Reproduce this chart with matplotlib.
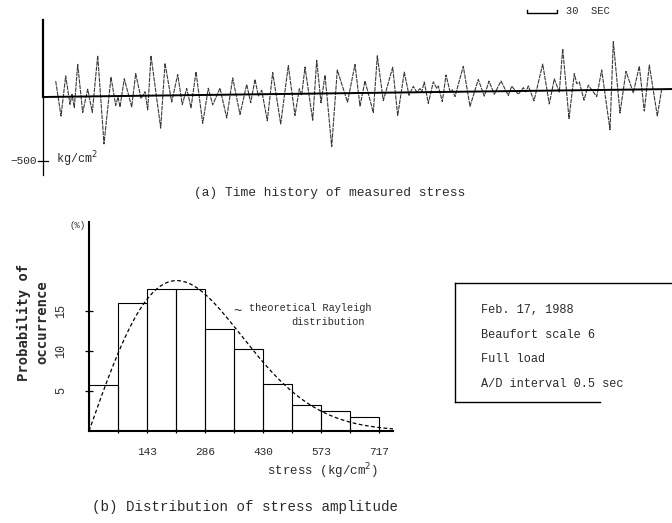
import numpy as np
import matplotlib
matplotlib.use("Agg")
import matplotlib.pyplot as plt

# ---------------- data ----------------
# (a) measured stress record: successive turning points
time_s = [12.7, 18, 22.7, 27, 29, 31.3, 34.7, 39.7, 44.7, 49.3, 54.7, 61, 68, 72.7, 75, 77,
          81.3, 88.7, 92.7, 98, 102, 104.7, 108, 117.7, 122, 128.7, 134.7, 139.3, 143.7, 148,
          153, 159.7, 165.3, 169.7, 177, 183.7, 189.7, 197, 203.7, 207.7, 212, 215.3, 218.7,
          224.3, 229.7, 237.7, 245.3, 252, 256.3, 258.7, 262, 269.7, 273.7, 278, 282, 288.7,
          294.3, 304.5, 312, 317, 322, 330.3, 334.3, 340.3, 349.7, 354.7, 361.3, 366, 370.3,
          373.7, 377, 378.7, 381.3, 385.3, 390.3, 393.7, 395.3, 399.3, 403, 407, 409.3, 412,
          420.3, 427, 435.3, 441.3, 446, 451.3, 458, 465.3, 468.7, 475.3, 480.3, 483, 485.3,
          491, 499.7, 506.3, 511.3, 516.3, 519.7, 526, 531.3, 533.7, 536.3, 541, 545.3, 553.7,
          558.7, 567, 570.3, 577, 583, 590.3, 596.3, 601.3, 606.3, 614.3, 618.7]
stress_kg = [123, -151, 162, -60, 18, -86, 252, -125, 57, -125, 318, -372, 148, -73, -8, -86,
             135, -86, 174, -21, 31, -112, 312, -255, 252, -52, 162, -73, 52, -99,
             182, -221, 52, -78, 52, -182, 130, -156, 78, -65, 117, -13, 31,
             -208, 169, -234, 221, -169, 39, -13, 208, -208, 260, -73, 143, -416,
             182, -70, 224, -102, 94, -154, 289, -62, 198, -180, 159, -23, 47,
             2, 29, 2, 80, -88, 80, 29, 47, -76, 133, 2, 16, -37,
             198, -115, 94, -37, 80, -23, 80, -34, 39, -26, 26, -8, 39,
             -78, 208, -104, 91, -13, 326, -221, 130, 52, 65, -78, 39, -52,
             156, -312, 377, -182, 143, -26, 182, -169, 190, -208, 0]
record_length = 629
zero_drift = [0, 62]          # recorder zero line, start / end (kg/cm2)
scale_value = -500

# (b) histogram of stress amplitude
bin_width = 71.7
bin_pct = [5.8, 16.0, 17.8, 17.8, 12.7, 10.2, 5.9, 3.3, 2.5, 1.7]
tick_labels = ["143", "286", "430", "573", "717"]
rayleigh_mode = 217.0
rayleigh_peak = 18.8

info_lines = ["Feb. 17, 1988", "Beaufort scale 6", "Full load", "A/D interval 0.5 sec"]

# ---------------- figure ----------------
W, H = 672, 523
fig = plt.figure(figsize=(W / 100, H / 100), dpi=100)
ink = "#2a2a2a"
mono = "Liberation Mono"
mono_bold = "DejaVu Sans Mono"


def fx(x):
    return x / W


def fy(y):
    return 1 - y / H


def box(x0, y0, x1, y1):
    return [fx(x0), fy(y1), (x1 - x0) / W, (y1 - y0) / H]


# ---------- (a) time history ----------
kg_per_px = 500 / 64
ax1 = fig.add_axes(box(43, 15, 672, 180))
ax1.set_xlim(0, record_length)
ax1.set_ylim(-(180 - 97) * kg_per_px, (97 - 15) * kg_per_px)
ax1.axis("off")

t = np.array(time_s)
drift = np.interp(t, [0, record_length], zero_drift)
ax1.plot(t, np.array(stress_kg) + drift, color="#3a3a3a", lw=0.8, dashes=(4, 0.8))
ax1.plot([0, record_length], zero_drift, color="black", lw=1.4)

# vertical stress axis with 500 kg/cm2 scale mark
ax1.plot([0, 0], [0, (97 - 20) * kg_per_px], color="black", lw=1.6, clip_on=False)
ax1.plot([0, 0], [0, -(175 - 97) * kg_per_px], color="black", lw=0.9, clip_on=False)
ax1.plot([-5, 5], [scale_value, scale_value], color="black", lw=0.9, clip_on=False)
fig.text(fx(37), fy(161), "\u2212500", family=mono, fontsize=8, color=ink,
         ha="right", va="center")
fig.text(fx(56), fy(159), "kg/cm$^2$", family=mono, fontsize=8.5, color=ink,
         ha="left", va="center")

# 30 s time scale bar
bar_y = (97 - 13) * kg_per_px
tick_h = 3 * kg_per_px
ax1.plot([484, 484, 514, 514], [bar_y + tick_h, bar_y, bar_y, bar_y + tick_h],
         color="black", lw=1.0, clip_on=False)
fig.text(fx(566), fy(11), "30  SEC", family=mono, fontsize=7.5, color=ink,
         ha="left", va="center")

fig.text(fx(330), fy(193), "(a) Time history of measured stress", family=mono,
         fontsize=9.3, color=ink, ha="center", va="center")

# ---------- (b) histogram ----------
ax2 = fig.add_axes(box(89, 222, 393, 431))
n_bins = len(bin_pct)
edges = np.arange(n_bins + 1) * bin_width
ax2.set_xlim(0, (393 - 89) / 29 * bin_width)
ax2.set_ylim(0, (431 - 222) / 8)
ax2.bar(edges[:-1], bin_pct, width=bin_width, align="edge", facecolor="none",
        edgecolor="black", lw=0.8)

xs = np.linspace(0, ax2.get_xlim()[1], 300)
u = xs / rayleigh_mode
ax2.plot(xs, rayleigh_peak * u * np.exp(0.5 * (1 - u ** 2)), color="black", lw=0.9,
         dashes=(3, 2))

for side in ("top", "right"):
    ax2.spines[side].set_visible(False)
for side in ("left", "bottom"):
    ax2.spines[side].set_linewidth(1.5)
ax2.set_yticks([5, 10, 15])
ax2.set_yticklabels(["5", "10", "15"], rotation=90, va="center", family=mono,
                    fontsize=8.5, color=ink)
ax2.tick_params(axis="y", direction="inout", length=6, width=0.9, pad=13)
ax2.set_xticks(edges[1:])
ax2.set_xticklabels(["" if i % 2 == 0 else tick_labels[i // 2] for i in range(n_bins)],
                    family=mono, fontsize=8, color=ink)
ax2.tick_params(axis="x", direction="inout", length=3, width=0.9, pad=10)

fig.text(fx(78), fy(225), "(%)", family=mono, fontsize=6.5, color=ink,
         ha="center", va="center")
fig.text(fx(24), fy(322), "Probability of", family=mono_bold, fontsize=10,
         weight="bold", color=ink, rotation=90, ha="center", va="center")
fig.text(fx(42), fy(322), "occurrence", family=mono_bold, fontsize=10,
         weight="bold", color=ink, rotation=90, ha="center", va="center")
fig.text(fx(322), fy(471), "stress (kg/cm$^2$)", family=mono, fontsize=9,
         color=ink, ha="center", va="center")
fig.text(fx(245), fy(507), "(b) Distribution of stress amplitude", family=mono,
         fontsize=10.2, color=ink, ha="center", va="center")

# curve annotation
fig.text(fx(237), fy(311), "~", family=mono, fontsize=10, color=ink,
         ha="center", va="center")
fig.text(fx(249), fy(308), "theoretical Rayleigh", family=mono, fontsize=7.4,
         color=ink, ha="left", va="center")
fig.text(fx(291), fy(322), "distribution", family=mono, fontsize=7.4,
         color=ink, ha="left", va="center")

# ---------- condition box ----------
frame = [([455, 672], [283, 283]), ([455, 455], [283, 402]), ([455, 600], [402, 402])]
for xx, yy in frame:
    fig.add_artist(plt.Line2D([fx(v) for v in xx], [fy(v) for v in yy],
                              color="black", lw=1.0))
for i, line in enumerate(info_lines):
    fig.text(fx(481), fy(310 + 24.7 * i), line, family=mono, fontsize=8.6,
             color=ink, ha="left", va="center")

fig.savefig("out.png", dpi=100, facecolor="white")
